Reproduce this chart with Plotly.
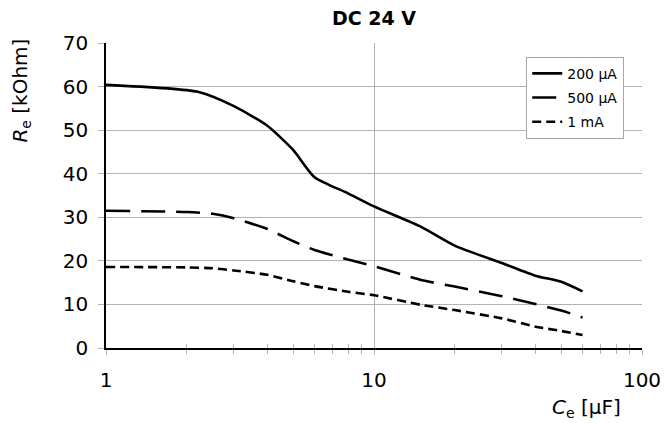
import plotly.graph_objects as go

title_text = "DC 24 V"
x_200uA = [1, 2.2, 3, 4, 5, 6, 8, 10, 15, 20, 30, 40, 50, 60]
y_200uA = [60.4, 58.8, 55.5, 51, 45.4, 39.2, 35.5, 32.5, 27.8, 23.5, 19.5, 16.6, 15.2, 13.0]
x_500uA = [1, 2, 2.5, 3, 4, 5, 6, 8, 10, 15, 20, 30, 40, 50, 60]
y_500uA = [31.5, 31.2, 30.8, 29.8, 27.3, 24.5, 22.5, 20.3, 18.8, 15.6, 14.1, 11.9, 10.1, 8.6, 7.0]
x_1mA = [1, 2, 2.5, 3, 4, 5, 6, 8, 10, 15, 20, 30, 40, 50, 60]
y_1mA = [18.6, 18.5, 18.3, 17.8, 16.8, 15.3, 14.2, 12.9, 12.1, 9.9, 8.7, 6.8, 4.9, 3.9, 3.0]
series_names = ["200 µA", "500 µA", "1 mA"]
x_tickvals = [1, 10, 100]
x_ticktext = ["1", "10", "100"]
x_minor = [2, 3, 4, 5, 6, 7, 8, 9, 20, 30, 40, 50, 60, 70, 80, 90]
y_tickvals = [0, 10, 20, 30, 40, 50, 60, 70]

FONT = "DejaVu Sans, Liberation Sans, Arial, sans-serif"
GRID = "#b3b3b3"

fig = go.Figure()
series = [(x_200uA, y_200uA, "solid"), (x_500uA, y_500uA, "24px,11px"), (x_1mA, y_1mA, "9px,5px")]
for i, ((xs, ys, dash), name) in enumerate(zip(series, series_names)):
    fig.add_trace(go.Scatter(x=xs, y=ys, mode="lines", name=name, legendgroup=name,
                             line=dict(color="black", width=2.6, dash=dash, shape="spline", smoothing=0.6)))

# overlay axis for inside half of crossing ticks
fig.add_trace(go.Scatter(x=[1, 100], y=[0, 0], xaxis="x2", mode="lines",
                         line=dict(color="rgba(0,0,0,0)"), showlegend=False, hoverinfo="skip"))

fig.update_layout(
    width=664, height=423,
    margin=dict(l=106, r=22, t=43, b=75, autoexpand=False),
    plot_bgcolor="white", paper_bgcolor="white",
    font=dict(family=FONT, size=20, color="black"),
    title=dict(text="<b>" + title_text + "</b>", x=0.5, xref="paper", y=0.956, yref="container",
               xanchor="center", yanchor="middle", font=dict(size=19, family=FONT)),
    xaxis=dict(type="log", range=[0, 2], tickvals=x_tickvals, ticktext=x_ticktext, automargin=False,
               showgrid=True, gridcolor=GRID, gridwidth=1,
               showline=True, linecolor="black", linewidth=1.5,
               ticks="outside", ticklen=5, tickcolor=GRID, ticklabelstandoff=8,
               minor=dict(tickvals=x_minor, ticks="outside", ticklen=4, tickcolor=GRID, showgrid=False),
               zeroline=False),
    xaxis2=dict(type="log", range=[0, 2], overlaying="x", anchor="y", side="bottom", automargin=False,
                tickvals=x_tickvals + x_minor, ticks="inside", ticklen=4, tickcolor=GRID,
                showticklabels=False, showgrid=False, showline=False, zeroline=False),
    yaxis=dict(range=[0, 70], tickvals=y_tickvals, showgrid=True, gridcolor=GRID, gridwidth=1,
               showline=True, linecolor="black", linewidth=1.5, automargin=False,
               ticks="outside", ticklen=6, tickcolor=GRID, ticklabelstandoff=6, zeroline=False),
    legend=dict(x=0.784, y=0.955, xanchor="left", yanchor="top",
                bgcolor="white", bordercolor="#a6a6a6", borderwidth=1,
                font=dict(size=14, family=FONT), tracegroupgap=3, itemwidth=30),
    showlegend=True,
)

fig.add_annotation(text="<i>R</i><sub>e</sub> [kOhm]", textangle=-90, xref="paper", yref="paper",
                   x=-0.158, y=0.845, xanchor="center", yanchor="middle", showarrow=False,
                   font=dict(size=20, family=FONT))
fig.add_annotation(text="<i>C</i><sub>e</sub> [µF]", xref="paper", yref="paper",
                   x=0.965, y=-0.198, xanchor="right", yanchor="middle", showarrow=False,
                   font=dict(size=20, family=FONT))

fig.write_html("out.html", config={"displayModeBar": False})
with open("out.html", "r", encoding="utf-8") as f:
    html = f.read()
html = html.replace("<body>", "<body style=\"margin:0;padding:0;overflow:hidden\">", 1)
with open("out.html", "w", encoding="utf-8") as f:
    f.write(html)
